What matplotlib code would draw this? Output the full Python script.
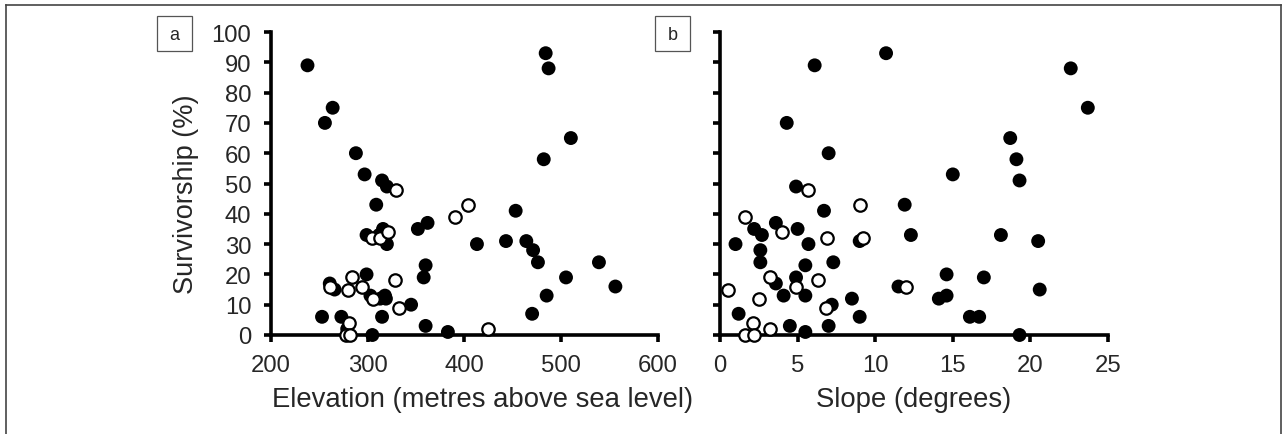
import matplotlib
matplotlib.use("Agg")
import matplotlib.pyplot as plt
from matplotlib.lines import Line2D
from matplotlib.patches import Rectangle

plt.rcParams["font.family"] = ["Liberation Sans", "DejaVu Sans"]

# Panel a: elevation (m a.s.l.) vs survivorship (%)
elev_filled = [238, 264, 256, 288, 297, 315, 320, 484, 487, 510, 482, 309, 299,
               316, 320, 352, 362, 453, 413, 443, 464, 471, 476, 539, 505, 556,
               485, 470, 360, 358, 360, 383, 345, 299, 261, 266, 303, 318, 319,
               253, 273, 315, 305, 279, 312, 313]
surv_elev_filled = [89, 75, 70, 60, 53, 51, 49, 93, 88, 65, 58, 43, 33,
                    35, 30, 35, 37, 41, 30, 31, 31, 28, 24, 24, 19, 16,
                    13, 7, 23, 19, 3, 1, 10, 20, 17, 15, 13, 13, 12,
                    6, 6, 6, 0, 2, 33, 12]
elev_open = [329, 305, 313, 321, 390, 404, 424, 332, 328, 284, 294, 280, 261,
             306, 281, 278, 282]
surv_elev_open = [48, 32, 32, 34, 39, 43, 2, 9, 18, 19, 16, 15, 16,
                  12, 4, 0, 0]

# Panel b: slope (degrees) vs survivorship (%)
slope_filled = [10.7, 6.1, 4.3, 7.0, 15.0, 4.9, 6.7, 11.9, 12.3, 2.2, 2.7, 3.6,
                5.0, 1.0, 2.6, 2.6, 5.7, 9.0, 5.5, 7.3, 3.6, 4.9, 4.1, 5.5, 1.2,
                7.2, 8.5, 9.0, 7.0, 4.5, 5.5, 11.5, 14.6, 17.0, 14.1, 14.6, 16.1,
                16.7, 22.6, 23.7, 18.7, 19.1, 19.3, 18.1, 20.5, 20.6, 19.3]
surv_slope_filled = [93, 89, 70, 60, 53, 49, 41, 43, 33, 35, 33, 37,
                     35, 30, 28, 24, 30, 31, 23, 24, 17, 19, 13, 13, 7,
                     10, 12, 6, 3, 3, 1, 16, 20, 19, 12, 13, 6,
                     6, 88, 75, 65, 58, 51, 33, 31, 15, 0]
slope_open = [5.7, 9.0, 1.6, 4.0, 6.9, 9.2, 3.2, 4.9, 6.3, 0.5, 2.5, 6.8, 2.1,
              3.2, 1.6, 2.2, 12.0]
surv_slope_open = [48, 43, 39, 34, 32, 32, 19, 16, 18, 15, 12, 9, 4,
                   2, 0, 0, 16]

W, H = 1287, 435
fig = plt.figure(figsize=(W / 100, H / 100), dpi=100)

ax_a = fig.add_axes([270.7 / W, 1 - 336 / H, 387.3 / W, 303 / H])
ax_b = fig.add_axes([720 / W, 1 - 336 / H, 388 / W, 303 / H])

TXT = "#262626"
MS = 100

for ax, xf, yf, xo, yo in [
    (ax_a, elev_filled, surv_elev_filled, elev_open, surv_elev_open),
    (ax_b, slope_filled, surv_slope_filled, slope_open, surv_slope_open),
]:
    ax.scatter(xf, yf, s=MS, c="black", edgecolors="none", zorder=3, clip_on=False)
    ax.scatter(xo, yo, s=MS * 0.8, c="white", edgecolors="black", linewidths=1.6,
               zorder=4, clip_on=False)
    ax.set_ylim(0, 100)
    ax.set_yticks(range(0, 101, 10))
    for side in ("top", "right"):
        ax.spines[side].set_visible(False)
    for side in ("left", "bottom"):
        ax.spines[side].set_linewidth(2.6)
    ax.tick_params(width=2.6, length=5, labelsize=17.2, labelcolor=TXT, pad=9)

ax_a.set_xlim(200, 600)
ax_a.set_xticks(range(200, 601, 100))
ax_a.set_ylabel("Survivorship (%)", fontsize=19.5, color=TXT)
ax_a.yaxis.set_label_coords(-0.184, 0.469)
ax_a.set_xlabel("Elevation (metres above sea level)", fontsize=19.8, color=TXT)
ax_a.xaxis.set_label_coords(0.548, -0.21)
ax_a.xaxis.label.set_va("center")

ax_b.set_xlim(0, 25)
ax_b.set_xticks(range(0, 26, 5))
ax_b.tick_params(axis="y", labelleft=False)
ax_b.set_xlabel("Slope (degrees)", fontsize=19.8, color=TXT)
ax_b.xaxis.set_label_coords(0.5, -0.21)
ax_b.xaxis.label.set_va("center")

# panel letters in small boxes
for letter, x0 in [("a", 157), ("b", 655)]:
    fig.add_artist(Rectangle((x0 / W, 1 - 52 / H), 35 / W, 35 / H,
                             transform=fig.transFigure, fill=False,
                             edgecolor="#555555", linewidth=0.9))
    fig.text((x0 + 17.5) / W, 1 - 35 / H, letter, ha="center", va="center",
             fontsize=13, color=TXT)

# outer frame (top, left, right)
frame_kw = dict(transform=fig.transFigure, color="#444444", linewidth=1.2)
fig.add_artist(Line2D([6 / W, 1281 / W], [1 - 6 / H, 1 - 6 / H], **frame_kw))
fig.add_artist(Line2D([6 / W, 6 / W], [0, 1 - 6 / H], **frame_kw))
fig.add_artist(Line2D([1281 / W, 1281 / W], [0, 1 - 6 / H], **frame_kw))

fig.savefig("out.png", dpi=100)
